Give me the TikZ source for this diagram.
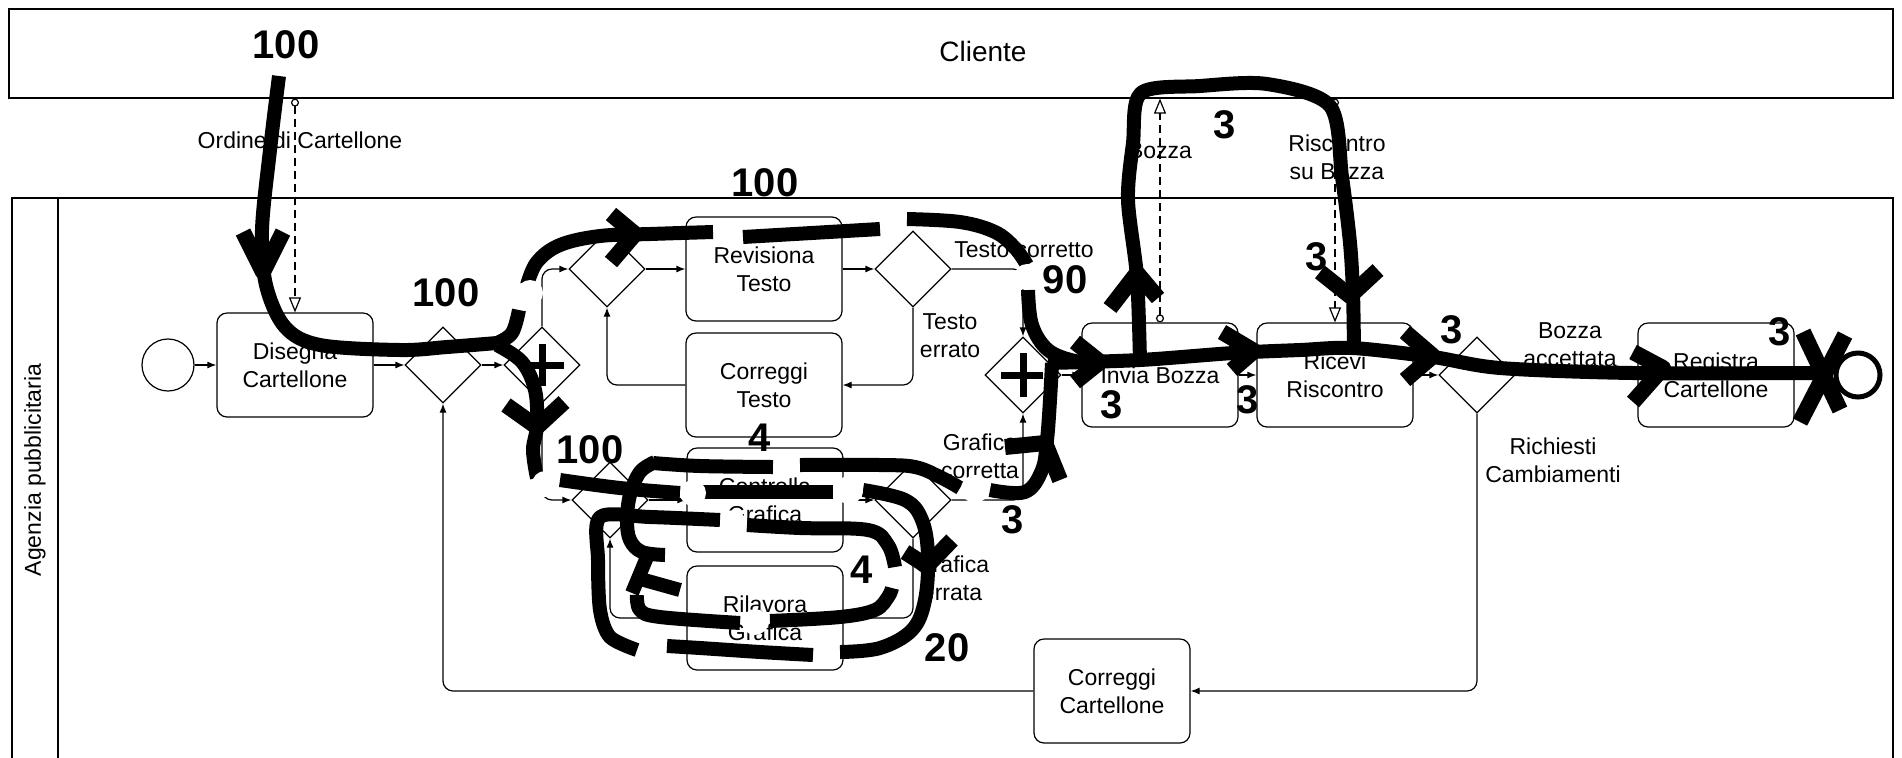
\documentclass[tikz,border=0pt]{standalone}
\usepackage{fontspec}
\setmainfont{Liberation Sans}
\usetikzlibrary{arrows.meta,shapes.geometric,calc}
\newcommand{\lblfont}{\fontsize{11.5}{14}\selectfont}
\newcommand{\numfont}{\fontsize{20}{22}\selectfont\bfseries}
\begin{document}
\begin{tikzpicture}[x=0.5pt,y=-0.5pt,line width=0.6pt,
  task/.style={draw,rounded corners=5pt,minimum width=78pt,minimum height=52pt,align=center,inner sep=1pt,font=\lblfont},
  gate/.style={draw,diamond,aspect=1,minimum width=38pt,minimum height=38pt,inner sep=0pt},
  event/.style={draw,circle,inner sep=0pt},
  flow/.style={-{Latex[length=4.5pt,width=3.5pt]},rounded corners=5pt},
  msg/.style={dash pattern=on 4pt off 2.5pt,{Circle[open,length=4pt,width=4pt]}-{Triangle[open,length=7.5pt,width=6pt]}},
  lbl/.style={font=\lblfont,align=center,inner sep=0pt},
  num/.style={font=\numfont,inner sep=0pt},
  plus/.style={line width=3.5pt},
  tok/.style={line width=7pt,line join=round},
  tokhead/.style={line width=8pt,line join=round},
]
\useasboundingbox (0,0) rectangle (1902,757);

% ---------- pools ----------
\node[draw,minimum width=942pt,minimum height=44.5pt,inner sep=0pt] (cliente) at (951,53.5) {};
\node[font=\fontsize{14}{16}\selectfont] (clientelbl) at (983,51) {Cliente};
\draw (12,198) rectangle (1893,775);
\draw (58,198) -- (58,775);
\node[lbl,rotate=90] (agenzia) at (35,470) {Agenzia pubblicitaria};

% ---------- process elements ----------
\node[event,minimum size=26pt] (start) at (168,365) {};
\node[task] (dis) at (295,365) {Disegna\\Cartellone};
\node[gate] (gw1) at (443,365) {};
\node[gate] (gw2) at (542,365) {};
\node[gate] (gw3) at (607,269) {};
\node[task] (rev) at (764,269) {Revisiona\\Testo};
\node[task] (corT) at (764,385) {Correggi\\Testo};
\node[gate] (gw6) at (913,269) {};
\node[gate] (gw4) at (610,500) {};
\node[task] (conG) at (765,500) {Controlla\\Grafica};
\node[task] (rilG) at (765,618) {Rilavora\\Grafica};
\node[gate] (gw5) at (913,500) {};
\node[gate] (gw7) at (1023,375) {};
\node[task] (inv) at (1160,375) {Invia Bozza};
\node[task] (ric) at (1335,375) {Ricevi\\Riscontro};
\node[gate] (gw8) at (1477,375) {};
\node[task] (reg) at (1716,375) {Registra\\Cartellone};
\node[event,line width=2.5pt,minimum size=22pt] (end) at (1858,375) {};
\node[task] (corC) at (1112,691) {Correggi\\Cartellone};

% parallel gateway markers
\draw[plus] ($(gw2)+(0,-21)$) -- ($(gw2)+(0,21)$) ($(gw2)+(-18,0)$) -- ($(gw2)+(22,0)$);
\draw[plus] ($(gw7)+(0,-22)$) -- ($(gw7)+(0,22)$) ($(gw7)+(-22,0)$) -- ($(gw7)+(20,0)$);

% ---------- sequence flows ----------
\draw[flow] (start) -- (dis);
\draw[flow] (dis) -- (gw1);
\draw[flow] (gw1) -- (gw2);
\draw[flow] (gw2.north) |- (gw3.west);
\draw[flow] (gw3) -- (rev);
\draw[flow] (rev) -- (gw6);
\draw[flow] (gw6.east) -| (gw7.north);
\draw[flow] (gw6.south) |- (corT.east);
\draw[flow] (corT.west) -| (gw3.south);
\draw[flow] (gw2.south) |- (gw4.west);
\draw[flow] (gw4) -- (conG);
\draw[flow] (conG) -- (gw5);
\draw[flow] (gw5.south) |- (rilG.east);
\draw[flow] (rilG.west) -| (gw4.south);
\draw[flow] (gw5.east) -| (gw7.south);
\draw[flow] (gw7) -- (inv);
\draw[flow] (inv) -- (ric);
\draw[flow] (ric) -- (gw8);
\draw[flow] (gw8) -- (reg);
\draw[flow] (reg) -- (end);
\draw[flow] (gw8.south) |- (corC.east);
\draw[flow] (corC.west) -| (gw1.south);

% ---------- message flows ----------
\draw[msg] (cliente.south -| dis.north) -- (dis.north);
\draw[msg] (inv.north) -- (inv.north |- cliente.south);
\draw[msg] (cliente.south -| ric.north) -- (ric.north);

% ---------- flow labels ----------
\node[lbl] (lordine) at (300,140) {Ordine di Cartellone};
\node[lbl] (lbozza) at (1160,151) {Bozza};
\node[lbl] (lrisc) at (1337,157) {Riscontro\\su Bozza};
\node[lbl] (ltc) at (1024,250) {Testo corretto};
\node[lbl] (lte) at (950,336) {Testo\\errato};
\node[lbl] (lgc) at (980,456) {Grafica\\corretta};
\node[lbl] (lge) at (952,578) {Grafica\\errata};
\node[lbl] (lba) at (1570,345) {Bozza\\accettata};
\node[lbl] (lrc) at (1553,460) {Richiesti\\Cambiamenti};

% ---------- token paths ----------
% order enters and reaches the first split
\draw[tok] plot[smooth,tension=0.55] coordinates {(279,76) (270,150) (262,230) (266,285) (285,327) (320,345) (400,350) (447,347) (497,343)};
\draw[tokhead] (243,232) -- (263,272) -- (283,232);
% text branch
\draw[tok] plot[smooth,tension=0.6] coordinates {(497,343) (512,333) (519,310)};
\draw[tok] plot[smooth,tension=0.6] coordinates {(527,285) (537,262) (560,245) (600,236) (650,234) (713,232)};
\draw[tokhead] (611,214) -- (635,234) -- (611,262);
\draw[tok] (743,237) -- (880,229);
\draw[tok] plot[smooth,tension=0.6] coordinates {(907,219) (960,222) (995,232) (1015,248) (1027,265)};
\draw[tok] plot[smooth,tension=0.6] coordinates {(1028,290) (1032,325) (1048,350) (1075,361) (1100,362)};
% graphics branch
\draw[tok] plot[smooth,tension=0.6] coordinates {(497,345) (522,362) (535,390) (537,425) (533,450) (537,478)};
\draw[tokhead] (506,405) -- (537,427) -- (564,402);
\draw[tok] plot[smooth,tension=0.6] coordinates {(560,480) (620,488) (680,493)};
\draw[tok] (703,492) -- (833,492);
\draw[tok] plot[smooth,tension=0.6] coordinates {(863,490) (905,500) (922,520) (928,555) (925,600) (912,630) (880,648) (840,652)};
\draw[tokhead] (905,552) -- (927,566) -- (952,540);
\draw[tok] plot[smooth,tension=0.6] coordinates {(813,655) (760,652) (700,648) (667,646)};
\draw[tok] plot[smooth,tension=0.5] coordinates {(637,650) (610,637) (600,610) (598,560) (600,517) (650,517) (720,520)};
\draw[tok] plot[smooth,tension=0.6] coordinates {(747,525) (800,528) (868,530) (888,545) (895,567)};
\draw[tok] plot[smooth,tension=0.6] coordinates {(653,463) (700,466) (773,467)};
\draw[tok] plot[smooth,tension=0.6] coordinates {(800,465) (880,465) (915,467) (940,477) (960,488)};
\draw[tok] plot[smooth,tension=0.6] coordinates {(655,462) (640,472) (630,495) (627,520) (630,540) (642,552) (665,555)};
\draw[tok] (647,557) -- (632,593);
\draw[tok] (637,578) -- (680,590);
\draw[tok] plot[smooth,tension=0.6] coordinates {(637,595) (640,610) (660,617) (740,623)};
\draw[tok] plot[smooth,tension=0.6] coordinates {(770,621) (840,617) (875,610) (888,597) (892,588)};
% corrected graphics rejoin
\draw[tok] plot[smooth,tension=0.6] coordinates {(990,490) (1025,492) (1042,470) (1047,440) (1050,400) (1052,363)};
\draw[tokhead] (1005,447) -- (1045,443) -- (1060,480);
% draft sent, feedback received, registered
\draw[tok] plot[smooth,tension=0.5] coordinates {(1048,363) (1140,360) (1233,353) (1300,350) (1353,348) (1433,357) (1500,368) (1633,373) (1815,373)};
\draw[tokhead] (1075,342) -- (1100,362) -- (1075,382);
\draw[tokhead] (1222,332) -- (1254,351) -- (1232,370);
\draw[tokhead] (1405,332) -- (1433,356) -- (1405,380);
\draw[tokhead] (1633,352) -- (1663,368) -- (1633,402);
\draw[tok] plot[smooth,tension=0.5] coordinates {(1140,362) (1137,277) (1128,200) (1133,143) (1141,93) (1200,86) (1267,84) (1330,106) (1342,177) (1350,243) (1353,293) (1354,350)};
\draw[tokhead] (1110,308) -- (1137,273) -- (1158,298);
\draw[tokhead] (1320,272) -- (1350,296) -- (1378,270);
\draw[tokhead] (1803,332) -- (1840,410);
\draw[tokhead] (1845,335) -- (1800,422);

% erased spots
\foreach \p/\r in {{(530,293)}/13,{(545,484)}/13,{(693,493)}/13,{(849,490)}/14,{(733,523)}/13,{(786,466)}/13,{(827,653)}/13,{(652,648)}/13,{(755,622)}/13,{(727,235)}/13,{(893,224)}/13,{(1027,277)}/13,{(975,489)}/14}
  \fill[white] \p circle[radius=\r];

% ---------- token counts ----------
\node[num] (n1) at (286,45) {100};
\node[num] (n2) at (446,293) {100};
\node[num] (n3) at (765,183) {100};
\node[num] (n4) at (590,450) {100};
\node[num] (n5) at (760,438) {4};
\node[num] (n6) at (862,570) {4};
\node[num] (n7) at (947,648) {20};
\node[num] (n8) at (1065,280) {90};
\node[num] (n9) at (1013,520) {3};
\node[num] (n10) at (1225,125) {3};
\node[num] (n11) at (1317,257) {3};
\node[num] (n12) at (1112,405) {3};
\node[num] (n13) at (1248,400) {3};
\node[num] (n14) at (1452,330) {3};
\node[num] (n15) at (1780,332) {3};
\end{tikzpicture}
\end{document}
